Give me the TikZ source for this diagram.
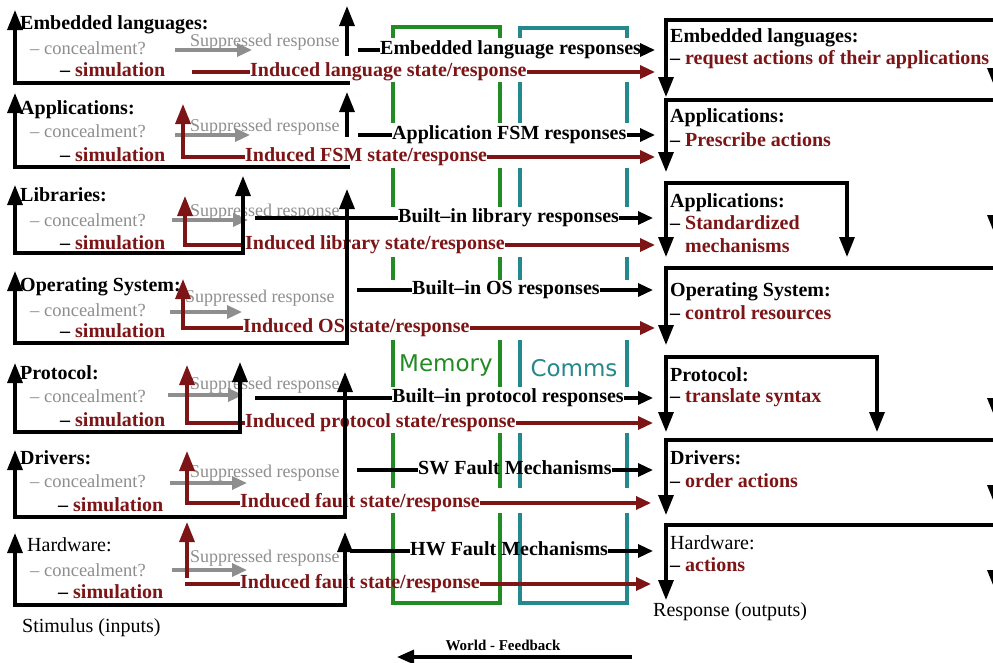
\documentclass[tikz,border=0pt]{standalone}
\usepackage{fontspec}
\setmainfont{Liberation Serif}
\newfontfamily\sansfam{DejaVu Sans}
\usetikzlibrary{arrows.meta}
\definecolor{dred}{HTML}{7D1416}
\definecolor{lgrey}{HTML}{8E8E8E}
\definecolor{mgreen}{HTML}{238B23}
\definecolor{mteal}{HTML}{24898C}
\tikzset{
  txt/.style={inner sep=0pt, anchor=west, text height=13pt, text depth=4pt},
  lbl/.style={txt, font=\bfseries\fontsize{20}{22}\selectfont},
  plain/.style={txt, font=\fontsize{20}{22}\selectfont},
  redlbl/.style={lbl, text=dred},
  conc/.style={txt, font=\fontsize{18.5}{20}\selectfont, text=lgrey},
  supp/.style={txt, font=\fontsize{18}{19}\selectfont, text=lgrey, text height=12pt, text depth=4pt},
  wire/.style={line width=3.3pt},
  vtip/.style={-{Triangle[length=20pt,width=15pt]}},
  htip/.style={-{Triangle[length=15pt,width=13pt]}},
  bothtip/.style={{Triangle[length=20pt,width=15pt]}-{Triangle[length=20pt,width=15pt]}},
  band/.style={fill=white, draw=none},
  boxlbl/.style={font=\sansfam\fontsize{23}{25}\selectfont, inner sep=0pt},
}
\begin{document}
\begin{tikzpicture}[x=1pt,y=-1pt]
\useasboundingbox (0,0) rectangle (993,662);
\fill[white] (0,0) rectangle (993,662);

% ---------- Memory / Comms boxes ----------
\node[draw=mgreen, wire, minimum width=107pt, minimum height=576pt, inner sep=0pt] (membox) at (446.5,315) {};
\node[draw=mteal, wire, minimum width=107pt, minimum height=575pt, inner sep=0pt] (combox) at (573.5,315.5) {};
\fill[band] (385,38) rectangle (635,82);
\fill[band] (385,123) rectangle (635,168);
\fill[band] (385,207) rectangle (635,257);
\fill[band] (385,280) rectangle (635,340);
\fill[band] (385,387) rectangle (635,433);
\fill[band] (385,488) rectangle (635,513);
\node[boxlbl, text=mgreen] (memlbl) at (446,366) {Memory};
\node[boxlbl, text=mteal] (comlbl) at (574,368) {Comms};

% ---------- Row 1 ----------
\node[lbl] (lt1) at (20,25) {Embedded languages:};
\node[conc] (lc1) at (30,50) {– concealment?};
\node[lbl] (ls1) at (60,72) {– \textcolor{dred}{simulation}};
\node[supp] (sp1) at (190,42) {Suppressed response};
\coordinate (g1a) at (175,50); \coordinate (g1b) at (252,50);
\draw[wire,lgrey,htip] (g1a) -- (g1b);
\node[redlbl] (in1) at (250,72) {Induced language state/response};
\coordinate (r1a) at (192,72); \coordinate (r1b) at (655,72);
\draw[wire,dred] (r1a) -- (in1.west);
\draw[wire,dred,htip] (in1.east) -- (r1b);
\node[lbl] (bt1) at (380,50) {Embedded language responses};
\coordinate (b1a) at (358,50); \coordinate (b1b) at (655,50);
\draw[wire] (b1a) -- (bt1.west);
\draw[wire,htip] (bt1.east) -- (b1b);
\coordinate (l1t) at (15,10); \coordinate (l1c) at (15,83); \coordinate (l1r) at (350,83);
\draw[wire,vtip] (l1r) -- (l1c) -- (l1t);
\coordinate (u1a) at (347,56); \coordinate (u1b) at (347,6);
\draw[wire,vtip] (u1a) -- (u1b);

% ---------- Row 2 ----------
\node[lbl] (lt2) at (20,110) {Applications:};
\node[conc] (lc2) at (30,133) {– concealment?};
\node[lbl] (ls2) at (60,157) {– \textcolor{dred}{simulation}};
\node[supp] (sp2) at (190,127) {Suppressed response};
\coordinate (g2a) at (175,135); \coordinate (g2b) at (250,135);
\draw[wire,lgrey,htip] (g2a) -- (g2b);
\node[redlbl] (in2) at (245,157) {Induced FSM state/response};
\coordinate (r2c) at (183,157); \coordinate (r2t) at (183,104); \coordinate (r2b) at (655,157);
\draw[wire,dred,vtip] (in2.west) -- (r2c) -- (r2t);
\draw[wire,dred,htip] (in2.east) -- (r2b);
\node[lbl] (bt2) at (392,135) {Application FSM responses};
\coordinate (b2a) at (358,135); \coordinate (b2b) at (655,135);
\draw[wire] (b2a) -- (bt2.west);
\draw[wire,htip] (bt2.east) -- (b2b);
\coordinate (l2t) at (15,93); \coordinate (l2c) at (15,167); \coordinate (l2r) at (350,167);
\draw[wire,vtip] (l2r) -- (l2c) -- (l2t);
\coordinate (u2a) at (347,137); \coordinate (u2b) at (347,92);
\draw[wire,vtip] (u2a) -- (u2b);

% ---------- Row 3 ----------
\node[lbl] (lt3) at (20,197) {Libraries:};
\node[conc] (lc3) at (30,222) {– concealment?};
\node[lbl] (ls3) at (60,245) {– \textcolor{dred}{simulation}};
\node[supp] (sp3) at (190,212) {Suppressed response};
\coordinate (g3a) at (172,220); \coordinate (g3b) at (248,220);
\draw[wire,lgrey,htip] (g3a) -- (g3b);
\node[redlbl] (in3) at (245,245) {Induced library state/response};
\coordinate (r3c) at (185,245); \coordinate (r3t) at (185,196); \coordinate (r3b) at (655,245);
\draw[wire,dred,vtip] (in3.west) -- (r3c) -- (r3t);
\draw[wire,dred,htip] (in3.east) -- (r3b);
\node[lbl] (bt3) at (398,218) {Built–in library responses};
\coordinate (b3a) at (255,218); \coordinate (b3b) at (653,218);
\draw[wire] (b3a) -- (bt3.west);
\draw[wire,htip] (bt3.east) -- (b3b);
\coordinate (l3t) at (15,185); \coordinate (l3c) at (15,253);
\coordinate (l3r) at (243,253); \coordinate (l3u) at (243,176);
\draw[wire,bothtip] (l3t) -- (l3c) -- (l3r) -- (l3u);

% ---------- Row 4 ----------
\node[lbl] (lt4) at (20,287) {Operating System:};
\node[conc] (lc4) at (30,312) {– concealment?};
\node[lbl] (ls4) at (60,333) {– \textcolor{dred}{simulation}};
\node[supp] (sp4) at (185,298) {Suppressed response};
\coordinate (g4a) at (170,312); \coordinate (g4b) at (242,312);
\draw[wire,lgrey,htip] (g4a) -- (g4b);
\node[redlbl] (in4) at (243,328) {Induced OS state/response};
\coordinate (r4c) at (183,328); \coordinate (r4t) at (183,279); \coordinate (r4b) at (655,328);
\draw[wire,dred,vtip] (in4.west) -- (r4c) -- (r4t);
\draw[wire,dred,htip] (in4.east) -- (r4b);
\node[lbl] (bt4) at (412,290) {Built–in OS responses};
\coordinate (b4a) at (357,290); \coordinate (b4b) at (653,290);
\draw[wire] (b4a) -- (bt4.west);
\draw[wire,htip] (bt4.east) -- (b4b);
\coordinate (l4t) at (15,271); \coordinate (l4c) at (15,343);
\coordinate (l4r) at (347,343); \coordinate (l4u) at (347,189);
\draw[wire,bothtip] (l4t) -- (l4c) -- (l4r) -- (l4u);

% ---------- Row 5 ----------
\node[lbl] (lt5) at (20,375) {Protocol:};
\node[conc] (lc5) at (30,398) {– concealment?};
\node[lbl] (ls5) at (60,422) {– \textcolor{dred}{simulation}};
\node[supp] (sp5) at (190,385) {Suppressed response};
\coordinate (g5a) at (168,395); \coordinate (g5b) at (243,395);
\draw[wire,lgrey,htip] (g5a) -- (g5b);
\node[redlbl] (in5) at (245,423) {Induced protocol state/response};
\coordinate (r5c) at (187,423); \coordinate (r5t) at (187,365); \coordinate (r5b) at (653,423);
\draw[wire,dred,vtip] (in5.west) -- (r5c) -- (r5t);
\draw[wire,dred,htip] (in5.east) -- (r5b);
\node[lbl] (bt5) at (392,398) {Built–in protocol responses};
\coordinate (b5a) at (255,398); \coordinate (b5b) at (653,398);
\draw[wire] (b5a) -- (bt5.west);
\draw[wire,htip] (bt5.east) -- (b5b);
\coordinate (l5t) at (15,363); \coordinate (l5c) at (15,432);
\coordinate (l5r) at (240,432); \coordinate (l5u) at (240,362);
\draw[wire,bothtip] (l5t) -- (l5c) -- (l5r) -- (l5u);

% ---------- Row 6 ----------
\node[lbl] (lt6) at (20,460) {Drivers:};
\node[conc] (lc6) at (30,483) {– concealment?};
\node[lbl] (ls6) at (58,507) {– \textcolor{dred}{simulation}};
\node[supp] (sp6) at (190,473) {Suppressed response};
\coordinate (g6a) at (170,483); \coordinate (g6b) at (247,483);
\draw[wire,lgrey,htip] (g6a) -- (g6b);
\node[redlbl] (in6) at (240,503) {Induced fault state/response};
\coordinate (r6c) at (187,503); \coordinate (r6t) at (187,451); \coordinate (r6b) at (651,503);
\draw[wire,dred,vtip] (in6.west) -- (r6c) -- (r6t);
\draw[wire,dred,htip] (in6.east) -- (r6b);
\node[lbl] (bt6) at (418,470) {SW Fault Mechanisms};
\coordinate (b6a) at (357,470); \coordinate (b6b) at (653,470);
\draw[wire] (b6a) -- (bt6.west);
\draw[wire,htip] (bt6.east) -- (b6b);
\coordinate (l6t) at (15,450); \coordinate (l6c) at (15,517);
\coordinate (l6r) at (345,517); \coordinate (l6u) at (345,372);
\draw[wire,bothtip] (l6t) -- (l6c) -- (l6r) -- (l6u);

% ---------- Row 7 ----------
\node[plain] (lt7) at (27,547) {Hardware:};
\node[conc] (lc7) at (30,572) {– concealment?};
\node[lbl] (ls7) at (58,594) {– \textcolor{dred}{simulation}};
\node[supp] (sp7) at (190,558) {Suppressed response};
\coordinate (g7a) at (172,570); \coordinate (g7b) at (247,570);
\draw[wire,lgrey,htip] (g7a) -- (g7b);
\node[redlbl] (in7) at (240,584) {Induced fault state/response};
\coordinate (r7a) at (185,584); \coordinate (r7b) at (651,584);
\draw[wire,dred] (r7a) -- (in7.west);
\draw[wire,dred,htip] (in7.east) -- (r7b);
\coordinate (r7v) at (187,578); \coordinate (r7t) at (187,522);
\draw[wire,dred,vtip] (r7v) -- (r7t);
\node[lbl] (bt7) at (410,551) {HW Fault Mechanisms};
\coordinate (b7a) at (350,551); \coordinate (b7b) at (653,551);
\draw[wire] (b7a) -- (bt7.west);
\draw[wire,htip] (bt7.east) -- (b7b);
\coordinate (l7t) at (15,533); \coordinate (l7c) at (15,605);
\coordinate (l7r) at (345,605); \coordinate (l7u) at (345,532);
\draw[wire,bothtip] (l7t) -- (l7c) -- (l7r) -- (l7u);

\node[plain] (stim) at (22,628) {Stimulus (inputs)};

% ---------- Right side ----------
\coordinate (R1r) at (995,20); \coordinate (R1l) at (666,20); \coordinate (R1d) at (666,97); \coordinate (R1e) at (995,88);
\draw[wire,vtip] (R1r) -- (R1l) -- (R1d);
\draw[wire,vtip] (R1r) -- (R1e);
\node[lbl] (rt1) at (670,38) {Embedded languages:};
\node[lbl] (ri1) at (670,60) {– \textcolor{dred}{request actions of their applications}};

\coordinate (R2r) at (995,100); \coordinate (R2l) at (666,100); \coordinate (R2d) at (666,172); \coordinate (R2e) at (995,235);
\draw[wire,vtip] (R2r) -- (R2l) -- (R2d);
\draw[wire,vtip] (R2r) -- (R2e);
\node[lbl] (rt2) at (670,118) {Applications:};
\node[lbl] (ri2) at (670,142) {– \textcolor{dred}{Prescribe actions}};

\coordinate (R3a) at (666,257); \coordinate (R3b) at (666,183); \coordinate (R3c) at (847,183); \coordinate (R3d) at (847,257);
\draw[wire,bothtip] (R3a) -- (R3b) -- (R3c) -- (R3d);
\node[lbl] (rt3) at (670,203) {Applications:};
\node[lbl] (ri3) at (670,225) {– \textcolor{dred}{Standardized}};
\node[redlbl] (ri3b) at (685,248) {mechanisms};

\coordinate (R4r) at (995,268); \coordinate (R4l) at (666,268); \coordinate (R4d) at (666,345); \coordinate (R4e) at (995,418);
\draw[wire,vtip] (R4r) -- (R4l) -- (R4d);
\draw[wire,vtip] (R4r) -- (R4e);
\node[lbl] (rt4) at (670,292) {Operating System:};
\node[lbl] (ri4) at (670,315) {– \textcolor{dred}{control resources}};

\coordinate (R5a) at (666,432); \coordinate (R5b) at (666,357); \coordinate (R5c) at (877,357); \coordinate (R5d) at (877,432);
\draw[wire,bothtip] (R5a) -- (R5b) -- (R5c) -- (R5d);
\node[lbl] (rt5) at (670,377) {Protocol:};
\node[lbl] (ri5) at (670,398) {– \textcolor{dred}{translate syntax}};

\coordinate (R6r) at (995,440); \coordinate (R6l) at (666,440); \coordinate (R6d) at (666,515); \coordinate (R6e) at (995,505);
\draw[wire,vtip] (R6r) -- (R6l) -- (R6d);
\draw[wire,vtip] (R6r) -- (R6e);
\node[lbl] (rt6) at (670,460) {Drivers:};
\node[lbl] (ri6) at (670,483) {– \textcolor{dred}{order actions}};

\coordinate (R7r) at (995,525); \coordinate (R7l) at (666,525); \coordinate (R7d) at (666,600); \coordinate (R7e) at (995,590);
\draw[wire,vtip] (R7r) -- (R7l) -- (R7d);
\draw[wire,vtip] (R7r) -- (R7e);
\node[plain] (rt7) at (670,545) {Hardware:};
\node[lbl] (ri7) at (670,567) {– \textcolor{dred}{actions}};

\node[plain] (resp) at (653,612) {Response (outputs)};

% ---------- World feedback ----------
\node[font=\bfseries\fontsize{15}{17}\selectfont, inner sep=0pt] (wf) at (503,645) {World - Feedback};
\coordinate (wfa) at (632,657); \coordinate (wfb) at (397,657);
\draw[wire,-{Triangle[length=17pt,width=14pt]}] (wfa) -- (wfb);
\end{tikzpicture}
\end{document}
